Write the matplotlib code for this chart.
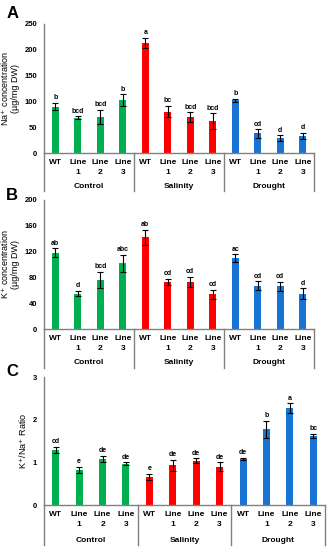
import matplotlib.pyplot as plt
import matplotlib.transforms as mtransforms

plt.rcParams['font.family'] = ['Liberation Sans', 'DejaVu Sans']

# Data
groups = ["Control", "Salinity", "Drought"]
lines = ["WT", "Line 1", "Line 2", "Line 3"]

na_mean = [90, 68, 70, 103, 213, 80, 70, 62, 102, 38, 29, 33]
na_err = [7, 3, 14, 11, 10, 11, 9, 15, 3, 8, 5, 6]
na_sig = ["b", "bcd", "bcd", "b", "a", "bc", "bcd", "bcd", "b", "cd", "d", "d"]

k_mean = [118, 55, 76, 102, 142, 73, 73, 54, 110, 67, 66, 55]
k_err = [7, 4, 13, 13, 12, 5, 8, 7, 6, 7, 7, 8]
k_sig = ["ab", "d", "bcd", "abc", "ab", "cd", "cd", "cd", "ac", "cd", "cd", "d"]

ratio_mean = [1.30, 0.82, 1.08, 0.97, 0.66, 0.93, 1.04, 0.90, 1.08, 1.78, 2.27, 1.62]
ratio_err = [0.07, 0.07, 0.07, 0.03, 0.07, 0.13, 0.05, 0.10, 0.03, 0.20, 0.11, 0.05]
ratio_sig = ["cd", "e", "de", "de", "e", "de", "de", "de", "de", "b", "a", "bc"]

colors = ["#00B050"] * 4 + ["#FF0000"] * 4 + ["#1874D2"] * 4

W, H = 328, 550
fig = plt.figure(figsize=(W / 100, H / 100), dpi=100)
gray = "#808080"


def panel(rect_px, means, errs, sigs, ymax, yticks, ylabel, letter, offs):
    left, right, top, bottom = rect_px
    ax = fig.add_axes([left / W, 1 - bottom / H, (right - left) / W, (bottom - top) / H])
    hpx = bottom - top
    x = list(range(len(means)))
    ax.bar(x, means, width=0.3, color=colors, zorder=2)
    ax.errorbar(x, means, yerr=errs, fmt="none", ecolor="black",
                elinewidth=0.8, capsize=2, capthick=0.8, zorder=3)
    pad = ymax * 0.012
    for xi, m, e, s in zip(x, means, errs, sigs):
        ax.text(xi, m + e + pad, s, ha="center", va="bottom",
                fontsize=5, fontweight="bold")
    ax.set_xlim(-0.5, len(means) - 0.5)
    ax.set_ylim(0, ymax)
    ax.set_yticks(yticks)
    ax.tick_params(axis="y", length=0, pad=5, labelsize=5.5)
    for t in ax.get_yticklabels():
        t.set_fontweight("bold")
    ax.set_xticks([])
    for sp in ["top", "right"]:
        ax.spines[sp].set_visible(False)
    for sp in ["left", "bottom"]:
        ax.spines[sp].set_color(gray)
        ax.spines[sp].set_linewidth(1)
    ax.set_ylabel(ylabel, fontsize=6.5, labelpad=3, linespacing=1.05)

    trans = mtransforms.blended_transform_factory(ax.transData, ax.transAxes)
    o_name, o_num, o_grp, o_sep = [o / hpx for o in offs]
    for xi in x:
        name = lines[xi % 4]
        parts = name.split(" ")
        ax.text(xi, -o_name, parts[0], transform=trans, ha="center",
                va="center", fontsize=6, fontweight="bold")
        if len(parts) > 1:
            ax.text(xi, -o_num, parts[1], transform=trans, ha="center",
                    va="center", fontsize=6, fontweight="bold")
    for gi, g in enumerate(groups):
        ax.text(gi * 4 + 1.5, -o_grp, g, transform=trans, ha="center",
                va="center", fontsize=6, fontweight="bold")
    for sx in [-0.5, 3.5, 7.5, 11.5]:
        ax.plot([sx, sx], [0, -o_sep], transform=trans, color=gray,
                lw=1, clip_on=False)
    fig.text(letter[1] / W, 1 - letter[2] / H, letter[0], fontsize=12,
             fontweight="bold", ha="left", va="center")
    return ax


panel((44, 314, 24, 153), na_mean, na_err, na_sig, 250, [0, 50, 100, 150, 200, 250],
      "Na$^{+}$ concentration\n(µg/mg DW)", ("A", 7, 13), (10, 20, 33, 38))
panel((44, 314, 200, 329), k_mean, k_err, k_sig, 200, [0, 40, 80, 120, 160, 200],
      "K$^{+}$ concentration\n(µg/mg DW)", ("B", 6, 195), (10, 19, 34, 39))
panel((44, 325, 377, 505), ratio_mean, ratio_err, ratio_sig, 3, [0, 1, 2, 3],
      "K$^{+}$/Na$^{+}$ Ratio", ("C", 6, 372), (10, 20, 35, 40))

fig.savefig("out.png", dpi=100)
